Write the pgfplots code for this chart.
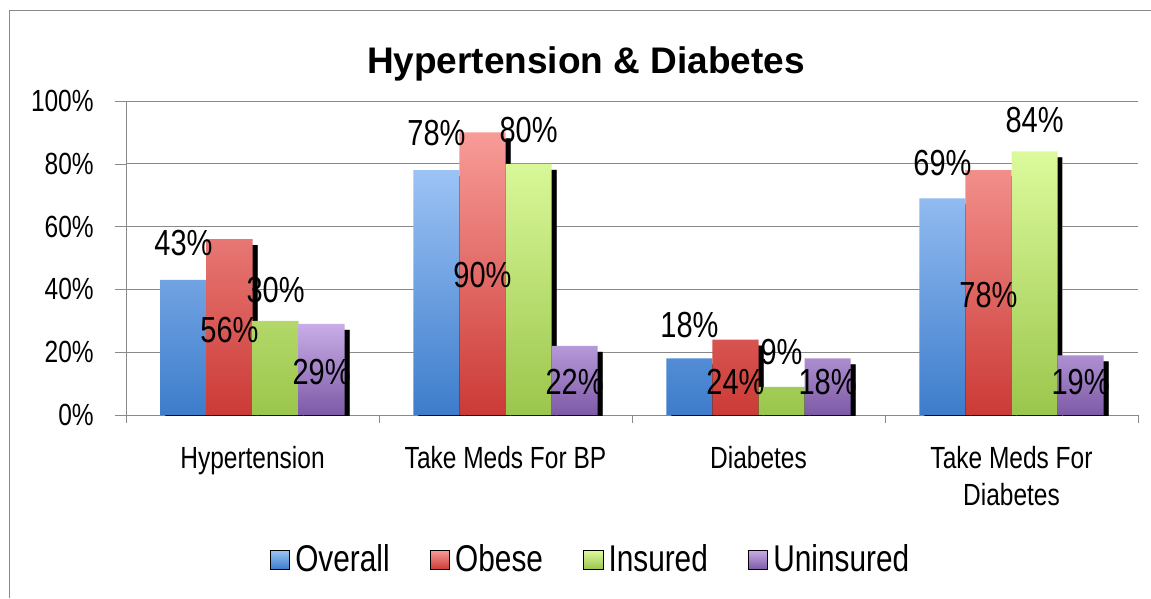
\documentclass[border=0pt]{standalone}
\usepackage{fontspec}
\setmainfont{Liberation Sans}[FakeStretch=0.8]
\newfontfamily\titlefont{Liberation Sans}
\usepackage{pgfplots}
\usepackage{pgfplotstable}
\pgfplotsset{compat=1.18}
\usetikzlibrary{shadows}

\definecolor{ovrT}{HTML}{9CC3F5}\definecolor{ovrB}{HTML}{3D7CCB}
\definecolor{obeT}{HTML}{F89C98}\definecolor{obeB}{HTML}{CB3A36}
\definecolor{insT}{HTML}{DCFA9C}\definecolor{insB}{HTML}{9BC64C}
\definecolor{uniT}{HTML}{C8ADE8}\definecolor{uniB}{HTML}{7D5AA6}
\definecolor{gridc}{HTML}{898989}

% x = category, y = value (%), ly = height where the value label sits
\pgfplotstableread{
x y ly
0 43 54.8
1 78 89.8
2 18 28.7
3 69 80.3
}\overall
\pgfplotstableread{
x y ly
0 56 27.1
1 90 44.6
2 24 10.5
3 78 38.2
}\obese
\pgfplotstableread{
x y ly
0 30 39.8
1 80 90.8
2 9 20.1
3 84 94.0
}\insured
\pgfplotstableread{
x y ly
0 29 13.7
1 22 10.5
2 18 10.5
3 19 10.5
}\uninsured

\tikzset{shad/.style={drop shadow={shadow xshift=2pt, shadow yshift=-2.4pt,
  opacity=1, top color=black, bottom color=black}}}

\begin{document}
\begin{tikzpicture}
\useasboundingbox (0,0) rectangle (460.4pt,-239.2pt);
\draw[gridc] (3.6pt,-239.2pt) -- (3.6pt,-4pt) -- (460.4pt,-4pt);
\node[anchor=base, font=\titlefont\bfseries\fontsize{14.8}{17}\selectfont] at (234.4pt,-29.2pt) {Hypertension \& Diabetes};

\begin{axis}[at={(50.4pt,-166pt)}, anchor=south west,
  scale only axis, width=404.8pt, height=125.6pt,
  xmin=-0.5, xmax=3.5, ymin=0, ymax=100, enlargelimits=false,
  xtick={0,1,2,3},
  xticklabels={Hypertension, Take Meds For BP, Diabetes, {Take Meds For\\Diabetes}},
  minor xtick={-0.5,0.5,1.5,2.5,3.5},
  ytick={0,20,40,60,80,100},
  yticklabels={0\%,20\%,40\%,60\%,80\%,100\%},
  axis lines=left, axis line style={gridc,-},
  tick align=outside, major tick length=4.4pt, minor tick length=3.2pt,
  major x tick style={draw=none}, minor x tick style={gridc},
  major y tick style={gridc},
  ymajorgrids, grid style={gridc},
  tick label style={font=\fontsize{12.25}{14.8}\selectfont},
  xticklabel style={align=center, yshift=-4.4pt},
  yticklabel style={xshift=-5pt},
  /pgf/number format/assume math mode=true,
  clip mode=individual,
  bars/.style={ybar, bar width=0.182, draw=none, forget plot, shad},
  labels/.style={draw=none, mark=none, forget plot, point meta=\thisrow{y},
    nodes near coords={\pgfmathprintnumber{\pgfplotspointmeta}\%},
    every node near coord/.append style={anchor=center,
      font=\fontsize{14.5}{16}\selectfont, text=black}},
  legend image code/.code={\path[#1] (0pt,-3.8pt) rectangle (7.8pt,3.8pt);},
  legend columns=4,
  legend style={at={(0.4605,-0.461)}, anchor=center, draw=none, fill=none,
    font=\fontsize{14.9}{17}\selectfont,
    /tikz/every even column/.append style={column sep=14pt}},
]
\addlegendimage{top color=ovrT, bottom color=ovrB}
\addlegendentry{Overall}
\addlegendimage{top color=obeT, bottom color=obeB}
\addlegendentry{Obese}
\addlegendimage{top color=insT, bottom color=insB}
\addlegendentry{Insured}
\addlegendimage{top color=uniT, bottom color=uniB}
\addlegendentry{Uninsured}

\addplot[bars, bar shift=-0.273, top color=ovrT, bottom color=ovrB] table[x=x,y=y] {\overall};
\addplot[bars, bar shift=-0.091, top color=obeT, bottom color=obeB] table[x=x,y=y] {\obese};
\addplot[bars, bar shift=0.091, top color=insT, bottom color=insB] table[x=x,y=y] {\insured};
\addplot[bars, bar shift=0.273, top color=uniT, bottom color=uniB] table[x=x,y=y] {\uninsured};

% value labels, drawn last so that they lie over the bars
\addplot[labels] table[x expr=\thisrow{x}-0.273, y=ly] {\overall};
\addplot[labels] table[x expr=\thisrow{x}-0.091, y=ly] {\obese};
\addplot[labels] table[x expr=\thisrow{x}+0.091, y=ly] {\insured};
\addplot[labels] table[x expr=\thisrow{x}+0.273, y=ly] {\uninsured};
\end{axis}
\end{tikzpicture}
\end{document}
